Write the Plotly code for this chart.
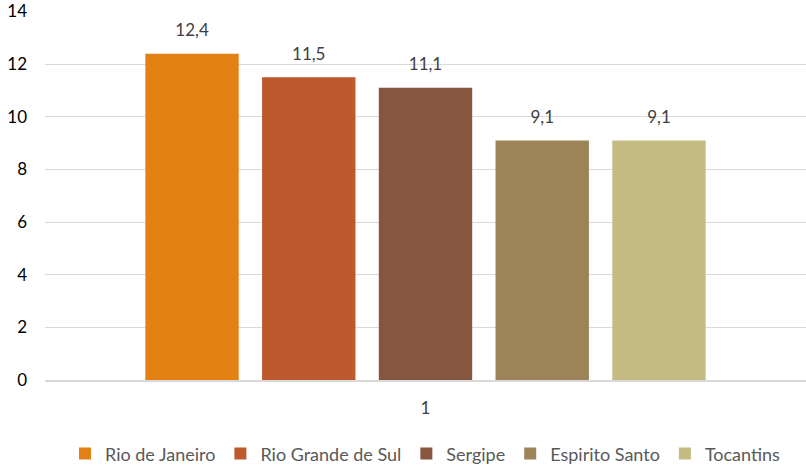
import plotly.graph_objects as go

CATEGORIES = ["1"]
STATES = ["Rio de Janeiro", "Rio Grande de Sul", "Sergipe", "Espirito Santo", "Tocantins"]
VALUES = [12.4, 11.5, 11.1, 9.1, 9.1]
LABELS = ["12,4", "11,5", "11,1", "9,1", "9,1"]
COLORS = ["#E48115", "#BE592D", "#875641", "#9C8358", "#C4BC82"]

FONT = "Lato, 'Open Sans', sans-serif"

fig = go.Figure()
for name, value, color in zip(STATES, VALUES, COLORS):
    fig.add_trace(
        go.Bar(
            x=CATEGORIES,
            y=[value],
            name=name,
            marker={"color": color, "line": {"width": 0}},
            hoverinfo="skip",
        )
    )

# value labels: invisible markers grouped like the bars, text sits above them
for name, value, label in zip(STATES, VALUES, LABELS):
    fig.add_trace(
        go.Scatter(
            x=CATEGORIES,
            y=[value],
            mode="markers+text",
            text=[label],
            textposition="top center",
            textfont={"color": "#404040", "size": 17},
            marker={"size": 20, "opacity": 0},
            showlegend=False,
            cliponaxis=False,
            hoverinfo="skip",
        )
    )

fig.update_layout(
    width=806,
    height=466,
    barmode="group",
    scattermode="group",
    bargap=0.233,
    bargroupgap=0.2,
    scattergap=0.233,
    plot_bgcolor="white",
    paper_bgcolor="white",
    font={"family": FONT, "size": 16, "color": "#404040"},
    margin={"l": 45, "r": 0, "t": 11, "b": 86, "autoexpand": False},
    showlegend=True,
    legend={
        "orientation": "h",
        "x": 0.5,
        "xanchor": "center",
        "y": -0.2,
        "yanchor": "middle",
        "font": {"size": 18, "color": "#595959"},
        "itemwidth": 30,
        "tracegroupgap": 0,
    },
)
fig.update_xaxes(
    type="category",
    automargin=False,
    showgrid=False,
    showline=True,
    linecolor="#D9D9D9",
    linewidth=1.5,
    ticks="",
    tickfont={"size": 17, "color": "#404040"},
    ticklabelstandoff=12,
)
fig.update_yaxes(
    range=[0, 14.02],
    tickvals=[0, 2, 4, 6, 8, 10, 12, 14],
    automargin=False,
    ticklabeloverflow="allow",
    showgrid=True,
    gridcolor="#D9D9D9",
    gridwidth=1,
    zeroline=False,
    showline=False,
    ticks="",
    tickfont={"size": 17, "color": "#000000"},
    ticklabelstandoff=17,
)

fig.write_html(
    "out.html",
    config={"displayModeBar": False},
    post_script="document.body.style.margin = '0';",
)
